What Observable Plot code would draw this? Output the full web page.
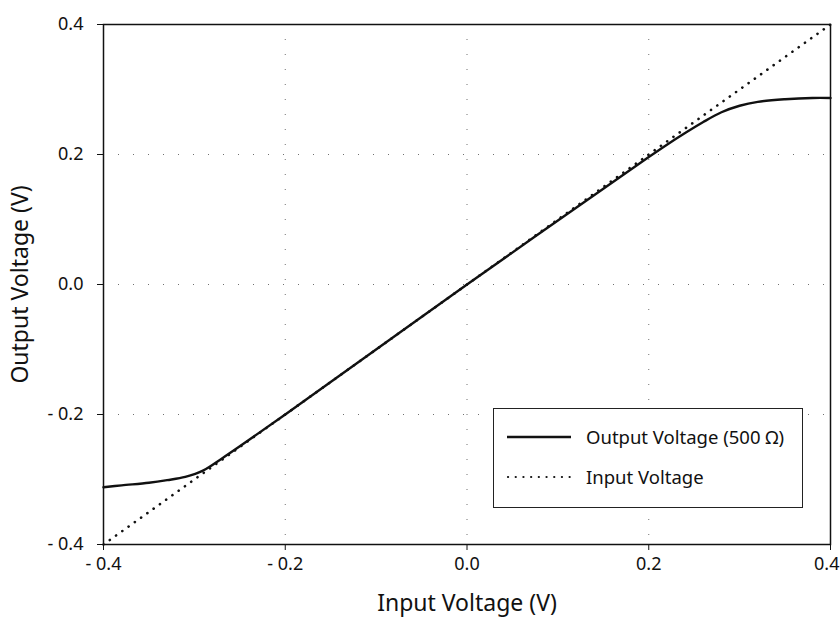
<!DOCTYPE html>
<html>
<head>
<meta charset="utf-8">
<script src="https://cdn.jsdelivr.net/npm/d3@7"></script>
<script src="https://cdn.jsdelivr.net/npm/@observablehq/plot@0.6"></script>
<style>
  body { margin: 0; background: #fff; font-family: "Noto Sans", sans-serif; }
  #wrap { position: relative; width: 840px; height: 629px; }
  #legend { position: absolute; left: 493px; top: 408px; width: 308px; height: 98px;
    border: 1.5px solid #222; background: #fff; font-family: "Noto Sans", sans-serif; font-size: 18.5px; color: #111; }
  .row { position: absolute; left: 12px; display: flex; align-items: center; }
  .row span { margin-left: 14px; }
</style>
</head>
<body>
<div id="wrap"></div>
<script>
const xTicks = [-0.4, -0.2, 0.0, 0.2, 0.4];
const yTicks = [-0.4, -0.2, 0.0, 0.2, 0.4];
const tickLabels = ["- 0.4", "- 0.2", "0.0", "0.2", "0.4"];
const inputX = [-0.4, 0.4];
const inputY = [-0.4, 0.4];
const outputX = [-0.4, -0.38, -0.35, -0.33, -0.31, -0.29, -0.27, -0.25, -0.2, 0, 0.2, 0.22, 0.24, 0.26, 0.28, 0.3, 0.32, 0.35, 0.38, 0.4];
const outputY = [-0.312, -0.309, -0.305, -0.301, -0.296, -0.286, -0.268, -0.249, -0.2, 0, 0.196, 0.215, 0.233, 0.25, 0.265, 0.275, 0.281, 0.285, 0.287, 0.287];
const seriesNames = ["Output Voltage (500 \u03a9)", "Input Voltage"];

const outData = outputX.map((x, i) => ({x, y: outputY[i]}));
const inData = inputX.map((x, i) => ({x, y: inputY[i]}));
const fmt = v => tickLabels[xTicks.findIndex(t => Math.abs(t - v) < 1e-9)];

const chart = Plot.plot({
  width: 840, height: 629,
  marginLeft: 103, marginRight: 10, marginTop: 24, marginBottom: 85,
  style: {fontFamily: "Noto Sans, sans-serif", fontSize: "18px", color: "#111", background: "#fff"},
  x: {domain: [-0.4, 0.4]},
  y: {domain: [-0.4, 0.4]},
  marks: [
    Plot.gridX([-0.2, 0, 0.2], {stroke: "#333", strokeOpacity: 0.7, strokeDasharray: "1,14"}),
    Plot.gridY([-0.2, 0, 0.2], {stroke: "#333", strokeOpacity: 0.7, strokeDasharray: "1,14"}),
    Plot.axisX({ticks: xTicks, tickFormat: fmt, tickSize: 6, tickPadding: 7, label: "Input Voltage (V)", labelAnchor: "center", labelArrow: "none", labelOffset: 66}),
    Plot.axisY({ticks: yTicks, tickFormat: fmt, tickSize: 6, tickPadding: 14, label: "Output Voltage (V)", labelAnchor: "center", labelArrow: "none", labelOffset: 92}),
    Plot.frame({stroke: "#111", strokeWidth: 1.5}),
    Plot.line(inData, {x: "x", y: "y", stroke: "#111", strokeWidth: 2.6, strokeDasharray: "0.1,7.6", strokeLinecap: "round"}),
    Plot.line(outData, {x: "x", y: "y", stroke: "#111", strokeWidth: 2.4, curve: "catmull-rom"})
  ]
});
const wrap = document.getElementById("wrap");
wrap.appendChild(chart);
d3.select(chart).selectAll("text").each(function() {
  const t = this.textContent;
  if (tickLabels.includes(t)) this.style.fontSize = "18px";
  else if (t.includes("Voltage")) this.style.fontSize = "23px";
});
// keep the right-most x tick label inside the picture
d3.select(chart).selectAll('g[aria-label="x-axis tick label"] text').each(function() {
  if (this.textContent === tickLabels[tickLabels.length - 1]) {
    this.setAttribute("text-anchor", "end");
    this.setAttribute("dx", "9");
  }
});

const legend = document.createElement("div");
legend.id = "legend";
legend.innerHTML = `
  <div class="row" style="top:15px"><svg width="66" height="6"><line x1="1" x2="65" y1="3" y2="3" stroke="#111" stroke-width="2.6"/></svg><span>${seriesNames[0]}</span></div>
  <div class="row" style="top:55px"><svg width="66" height="6"><line x1="2" x2="65" y1="3" y2="3" stroke="#111" stroke-width="2.2" stroke-dasharray="0.1,7.6" stroke-linecap="round"/></svg><span>${seriesNames[1]}</span></div>`;
wrap.appendChild(legend);
</script>
</body>
</html>
